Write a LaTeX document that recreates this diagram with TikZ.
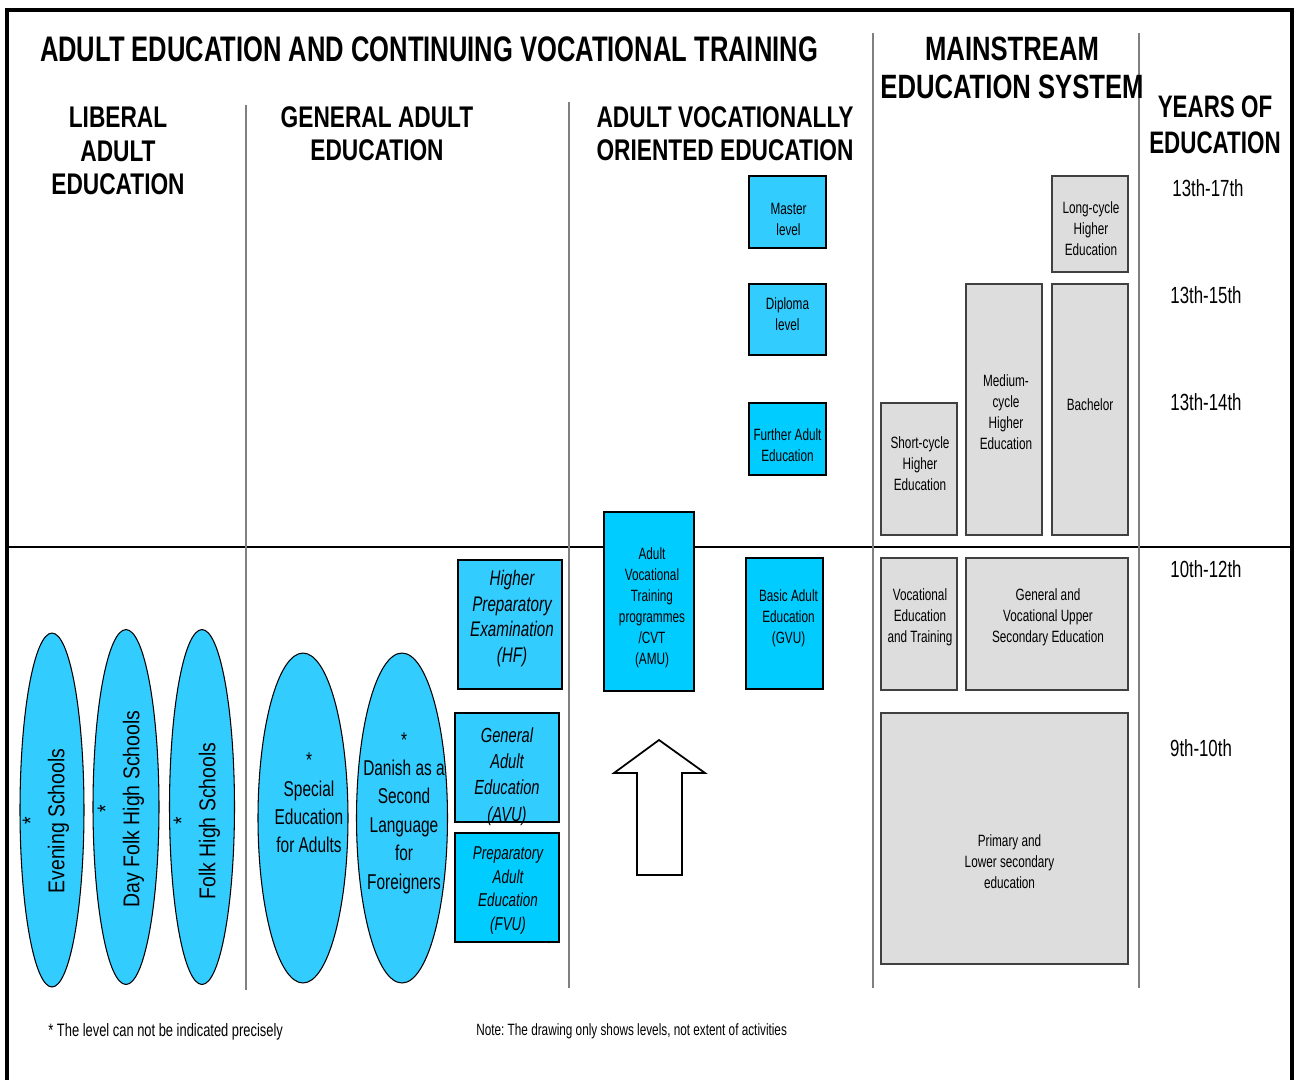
\documentclass[tikz,border=0pt]{standalone}
\usepackage{fontspec}
\setmainfont{Liberation Sans}[FakeStretch=0.72]
\newfontfamily\ovalfont{Liberation Sans}[FakeStretch=0.85]
\newfontfamily\headfont{Liberation Sans}[FakeStretch=0.76]
\usetikzlibrary{fit,shapes.geometric}
\frenchspacing

\definecolor{skyblue}{HTML}{33CCFF}
\definecolor{brightcyan}{HTML}{00CCFF}
\definecolor{boxgray}{HTML}{DDDDDD}
\definecolor{rulegray}{HTML}{808080}

\tikzset{
  maintitle/.style={font=\bfseries\fontsize{20.2}{24}\selectfont},
  head/.style={font=\headfont\bfseries\fontsize{17}{19}\selectfont, align=center},
  years/.style={font=\fontsize{13.3}{15}\selectfont},
  note/.style={anchor=west, inner sep=0pt},
  bluebox/.style={draw=black, fill=skyblue, inner sep=0pt, line width=0.7pt},
  cyanbox/.style={bluebox, fill=brightcyan},
  greybox/.style={draw=black!75, fill=boxgray, inner sep=0pt, line width=0.7pt},
  boxtext/.style={align=center, inner sep=0pt, font=\fontsize{9.3}{12}\selectfont},
  oval/.style={draw=black, fill=skyblue, ellipse, inner sep=0pt, line width=0.6pt},
  ovaltext/.style={rotate=90, align=center, font=\ovalfont\fontsize{13}{14.8}\selectfont},
  ovallines/.style={align=center, font=\fontsize{12.2}{16.2}\selectfont},
  divider/.style={draw=rulegray, line width=1.1pt},
}

\begin{document}
\begin{tikzpicture}[x=0.02cm, y=-0.02cm]
   \useasboundingbox (0,0) rectangle (1298,1080);

   % frame and rules
   \draw[line width=1.8pt] (7,1080) -- (7,10) -- (1292,10) -- (1292,1080);
   \draw[line width=0.9pt] (7,547) -- (1292,547);
   \draw[divider] (246,105) -- (246,990);
   \draw[divider] (569,102) -- (569,988);
   \draw[divider] (873,33) -- (873,988);
   \draw[divider] (1139,33) -- (1139,988);

   % headings
   \path (429,49) node[maintitle] (T) {ADULT EDUCATION AND CONTINUING VOCATIONAL TRAINING};
   \path (118,151) node[head] (LAE) {LIBERAL\\ADULT\\EDUCATION};
   \path (377,134) node[head] (GAE) {GENERAL ADULT\\EDUCATION};
   \path (725,134) node[head] (AVOE) {ADULT VOCATIONALLY\\ORIENTED EDUCATION};
   \path (1012,68) node[head, font=\headfont\bfseries\fontsize{19.2}{21.5}\selectfont] (MES) {MAINSTREAM\\EDUCATION SYSTEM};
   \path (1215,125) node[head, font=\bfseries\fontsize{17.7}{20.4}\selectfont] (YOE) {YEARS OF\\EDUCATION};

   % liberal adult education
   \path (52,810) node[oval, minimum width=1.28cm, minimum height=7.08cm] (ES) {};
   \path (126,807) node[oval, minimum width=1.32cm, minimum height=7.1cm] (DFHS) {};
   \path (202,807) node[oval, minimum width=1.3cm, minimum height=7.1cm] (FHS) {};
   \path (46,821) node[ovaltext] (ESt) {*\\Evening Schools};
   \path (121,809) node[ovaltext] (DFHSt) {*\\Day Folk High Schools};
   \path (197,821) node[ovaltext] (FHSt) {*\\Folk High Schools};

   % general adult education
   \path (303,818) node[oval, minimum width=1.8cm, minimum height=6.6cm] (SEA) {};
   \path (402,818) node[oval, minimum width=1.82cm, minimum height=6.6cm] (DSL) {};
   \path (309,803) node[ovallines] (SEAt) {*\\Special\\Education\\for Adults};
   \path (404,813) node[ovallines] (DSLt) {*\\Danish as a\\Second\\Language\\for\\Foreigners};
   \path node[bluebox, fit={(458,560) (562,689)}] (HF) {};
   \path (HF) ++(2,-6) node[boxtext, font=\itshape\fontsize{12}{14.7}\selectfont] (HFt)
     {Higher\\Preparatory\\Examination\\(HF)};
   \path node[bluebox, fit={(455,713) (559,822)}] (AVU) {};
   \path (AVU) ++(0,9) node[boxtext, font=\itshape\fontsize{11.6}{14.9}\selectfont] (AVUt)
     {General\\Adult\\Education\\(AVU)};
   \path node[cyanbox, fit={(455,833) (559,942)}] (FVU) {};
   \path (FVU) ++(1,3) node[boxtext, font=\itshape\fontsize{10.6}{13.4}\selectfont] (FVUt)
     {Preparatory\\Adult\\Education\\(FVU)};

   % adult vocationally oriented education
   \path node[cyanbox, fit={(604,512) (694,691)}] (AMU) {};
   \path (AMU) ++(3,6) node[boxtext] (AMUt) {Adult\\Vocational\\Training\\programmes\\/CVT\\(AMU)};
   \path node[cyanbox, fit={(746,558) (823,689)}] (GVU) {};
   \path (GVU) ++(4,-5) node[boxtext] (GVUt) {Basic Adult\\Education\\(GVU)};
   \path node[cyanbox, fit={(749,403) (826,475)}] (FAE) {};
   \path (FAE) ++(0,6) node[boxtext] (FAEt) {Further Adult\\Education};
   \path node[bluebox, fit={(749,284) (826,355)}] (DL) {};
   \path (DL) ++(0,-5) node[boxtext] (DLt) {Diploma\\level};
   \path node[bluebox, fit={(749,176) (826,248)}] (ML) {};
   \path (ML) ++(1,7) node[boxtext] (MLt) {Master\\level};
   \draw[line width=1pt, fill=white] (659,740) -- (705,773) -- (682,773) -- (682,875)
     -- (637,875) -- (637,773) -- (614,773) -- cycle;

   % mainstream education system
   \path node[greybox, fit={(881,713) (1128,964)}] (PLS) {};
   \path (PLS) ++(5,23) node[boxtext] (PLSt) {Primary and\\Lower secondary\\education};
   \path node[greybox, fit={(881,558) (957,690)}] (VET) {};
   \path (VET) ++(1,-7) node[boxtext] (VETt) {Vocational\\Education\\and Training};
   \path node[greybox, fit={(966,558) (1128,690)}] (GVUS) {};
   \path (GVUS) ++(1,-7) node[boxtext] (GVUSt) {General and\\Vocational Upper\\Secondary Education};
   \path node[greybox, fit={(881,403) (957,535)}] (SCHE) {};
   \path (SCHE) ++(1,-5) node[boxtext] (SCHEt) {Short-cycle\\Higher\\Education};
   \path node[greybox, fit={(966,284) (1042,535)}] (MCHE) {};
   \path (MCHE) ++(2,3) node[boxtext] (MCHEt) {Medium-\\cycle\\Higher\\Education};
   \path node[greybox, fit={(1052,284) (1128,535)}] (BA) {};
   \path (BA) ++(0,-5) node[boxtext] (BAt) {Bachelor};
   \path node[greybox, fit={(1052,176) (1128,272)}] (LCHE) {};
   \path (LCHE) ++(1,5) node[boxtext] (LCHEt) {Long-cycle\\Higher\\Education};

   % years of education
   \path (1208,188) node[years] (Y1) {13th-17th};
   \path (1206,295) node[years] (Y2) {13th-15th};
   \path (1206,402) node[years] (Y3) {13th-14th};
   \path (1206,569) node[years] (Y4) {10th-12th};
   \path (1201,748) node[years] (Y5) {9th-10th};

   % notes
   \path (48,1032) node[note, font=\fontsize{10.2}{12}\selectfont] (FN) {* The level can not be indicated precisely};
   \path (476,1031) node[note, font=\fontsize{9.3}{12}\selectfont] (NT) {Note: The drawing only shows levels, not extent of activities};
\end{tikzpicture}
\end{document}
